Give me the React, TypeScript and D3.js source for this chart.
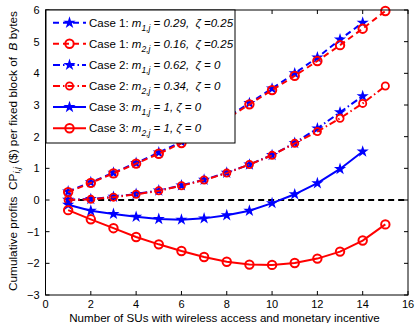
import React, { useEffect, useRef } from 'react';
import * as d3 from 'd3';

const xs = [1, 2, 3, 4, 5, 6, 7, 8, 9, 10, 11, 12, 13, 14, 15];

const case1m1 = [0.27, 0.56, 0.86, 1.17, 1.5, 1.84, 2.2, 2.6, 3.06, 3.52, 4.0, 4.5, 5.07, 5.6];
const case1m2 = [0.25, 0.54, 0.84, 1.15, 1.46, 1.8, 2.16, 2.56, 3.02, 3.47, 3.92, 4.39, 4.89, 5.41, 5.97];
const case2m1 = [0.01, 0.03, 0.1, 0.19, 0.3, 0.46, 0.64, 0.86, 1.12, 1.42, 1.8, 2.26, 2.77, 3.28];
const case2m2 = [0.0, 0.02, 0.09, 0.18, 0.29, 0.45, 0.63, 0.85, 1.12, 1.41, 1.79, 2.16, 2.58, 3.05, 3.6];
const case3m1 = [-0.15, -0.34, -0.44, -0.53, -0.6, -0.62, -0.58, -0.48, -0.34, -0.1, 0.18, 0.53, 0.98, 1.53];
const case3m2 = [-0.32, -0.61, -0.89, -1.17, -1.4, -1.61, -1.8, -1.95, -2.04, -2.05, -1.99, -1.85, -1.63, -1.28, -0.77];

const xTicks = [0, 2, 4, 6, 8, 10, 12, 14, 16];
const yTicks = [-3, -2, -1, 0, 1, 2, 3, 4, 5, 6];

const series = [
  { case: 'Case 1: ', sub: '1,j', rest: ' = 0.29,  \u03b6 =0.25', values: case1m1, color: '#0000ff', marker: 'star', dash: '6,4' },
  { case: 'Case 1: ', sub: '2,j', rest: ' = 0.16,  \u03b6 =0.25', values: case1m2, color: '#ff0000', marker: 'circle', dash: '6,4' },
  { case: 'Case 2: ', sub: '1,j', rest: ' = 0.62,  \u03b6 = 0', values: case2m1, color: '#0000ff', marker: 'star', dash: '7,3,1.5,3' },
  { case: 'Case 2: ', sub: '2,j', rest: ' = 0.34,  \u03b6 = 0', values: case2m2, color: '#ff0000', marker: 'ocircle', dash: '7,3,1.5,3' },
  { case: 'Case 3: ', sub: '1,j', rest: ' = 1, \u03b6 = 0', values: case3m1, color: '#0000ff', marker: 'star', dash: null },
  { case: 'Case 3: ', sub: '2,j', rest: ' = 1, \u03b6 = 0', values: case3m2, color: '#ff0000', marker: 'circle', dash: null },
];

const W = 415, H = 323;
const left = 45.5, right = 408, top = 10, bottom = 295;
const font = 'Liberation Sans, Arial, sans-serif';

const App = () => {
  const svgRef = useRef<SVGSVGElement>(null);

  useEffect(() => {
    const svg = d3.select(svgRef.current);
    svg.selectAll('*').remove();

    const x = d3.scaleLinear().domain([0, 16]).range([left, right]);
    const y = d3.scaleLinear().domain([-3, 6]).range([bottom, top]);
    const star = d3.symbol().type(d3.symbolStar).size(46);

    svg.append('rect').attr('width', W).attr('height', H).attr('fill', 'white');

    // zero reference
    svg.append('line')
      .attr('x1', x(1)).attr('x2', x(16)).attr('y1', y(0)).attr('y2', y(0))
      .attr('stroke', 'black').attr('stroke-width', 2).attr('stroke-dasharray', '6,4');

    const line = d3.line<number>().x((d, i) => x(xs[i])).y(d => y(d));

    const drawMarker = (g, s, cx, cy) => {
      if (s.marker === 'star') {
        g.append('path').attr('d', star()).attr('transform', `translate(${cx},${cy})`).attr('fill', s.color);
      } else if (s.marker === 'circle') {
        g.append('circle').attr('cx', cx).attr('cy', cy).attr('r', 4.2).attr('fill', 'none').attr('stroke', s.color).attr('stroke-width', 2);
      } else {
        g.append('circle').attr('cx', cx).attr('cy', cy).attr('r', 3.6).attr('fill', 'none').attr('stroke', s.color).attr('stroke-width', 1.8);
      }
    };

    series.forEach(s => {
      const g = svg.append('g');
      g.append('path').datum(s.values).attr('d', line)
        .attr('fill', 'none').attr('stroke', s.color).attr('stroke-width', 2)
        .attr('stroke-dasharray', s.dash);
      s.values.forEach((v, i) => drawMarker(g, s, x(xs[i]), y(v)));
    });

    // axes box
    const ax = svg.append('g');
    ax.append('rect').attr('x', left).attr('y', top).attr('width', right - left).attr('height', bottom - top)
      .attr('fill', 'none').attr('stroke', 'black').attr('stroke-width', 1);
    xTicks.forEach(t => {
      ax.append('line').attr('x1', x(t)).attr('x2', x(t)).attr('y1', bottom).attr('y2', bottom - 4).attr('stroke', 'black');
      ax.append('line').attr('x1', x(t)).attr('x2', x(t)).attr('y1', top).attr('y2', top + 4).attr('stroke', 'black');
      ax.append('text').attr('x', x(t)).attr('y', bottom + 13).attr('text-anchor', 'middle')
        .attr('font-family', font).attr('font-size', 11).text(t);
    });
    yTicks.forEach(t => {
      ax.append('line').attr('x1', left).attr('x2', left + 4).attr('y1', y(t)).attr('y2', y(t)).attr('stroke', 'black');
      ax.append('line').attr('x1', right).attr('x2', right - 4).attr('y1', y(t)).attr('y2', y(t)).attr('stroke', 'black');
      ax.append('text').attr('x', left - 6).attr('y', y(t) + 4).attr('text-anchor', 'end')
        .attr('font-family', font).attr('font-size', 11).text(t < 0 ? '\u2212' + Math.abs(t) : t);
    });

    ax.append('text').attr('x', 224.5).attr('y', 321.5).attr('text-anchor', 'middle')
      .attr('font-family', font).attr('font-size', 11.6)
      .text('Number of SUs with wireless access and monetary incentive');

    const yl = ax.append('text').attr('transform', `translate(17,151) rotate(-90)`)
      .attr('text-anchor', 'middle').attr('font-family', font).attr('font-size', 11.8)
      .style('white-space', 'pre');
    yl.append('tspan').text('Cumulative profits  CP');
    yl.append('tspan').attr('font-style', 'italic').attr('font-size', 9).attr('dy', 3).text('i,j');
    yl.append('tspan').attr('dy', -3).text(' ($) per fixed block of  ');
    yl.append('tspan').attr('font-style', 'italic').text('B');
    yl.append('tspan').text(' bytes');

    // legend
    const lg = svg.append('g');
    lg.append('rect').attr('x', 46).attr('y', 10).attr('width', 189).attr('height', 133)
      .attr('fill', 'white').attr('stroke', 'black').attr('stroke-width', 1);
    series.forEach((s, i) => {
      const ly = 22.7 + i * 21.1;
      lg.append('line').attr('x1', 53).attr('x2', 86).attr('y1', ly).attr('y2', ly)
        .attr('stroke', s.color).attr('stroke-width', 2).attr('stroke-dasharray', s.dash);
      drawMarker(lg, s, 69.5, ly);
      const t = lg.append('text').attr('x', 89).attr('y', ly + 4).attr('font-family', font).attr('font-size', 11.5)
        .style('white-space', 'pre');
      t.append('tspan').text(s.case);
      t.append('tspan').attr('font-style', 'italic').text('m');
      t.append('tspan').attr('font-style', 'italic').attr('font-size', 8.5).attr('dy', 4).text(s.sub);
      t.append('tspan').attr('font-style', 'italic').attr('dy', -4).text(s.rest);
    });
  }, []);

  return (
    <svg ref={svgRef} width={W} height={H} style={{ position: 'absolute', left: 0, top: 0 }}></svg>
  );
};

export default App;
